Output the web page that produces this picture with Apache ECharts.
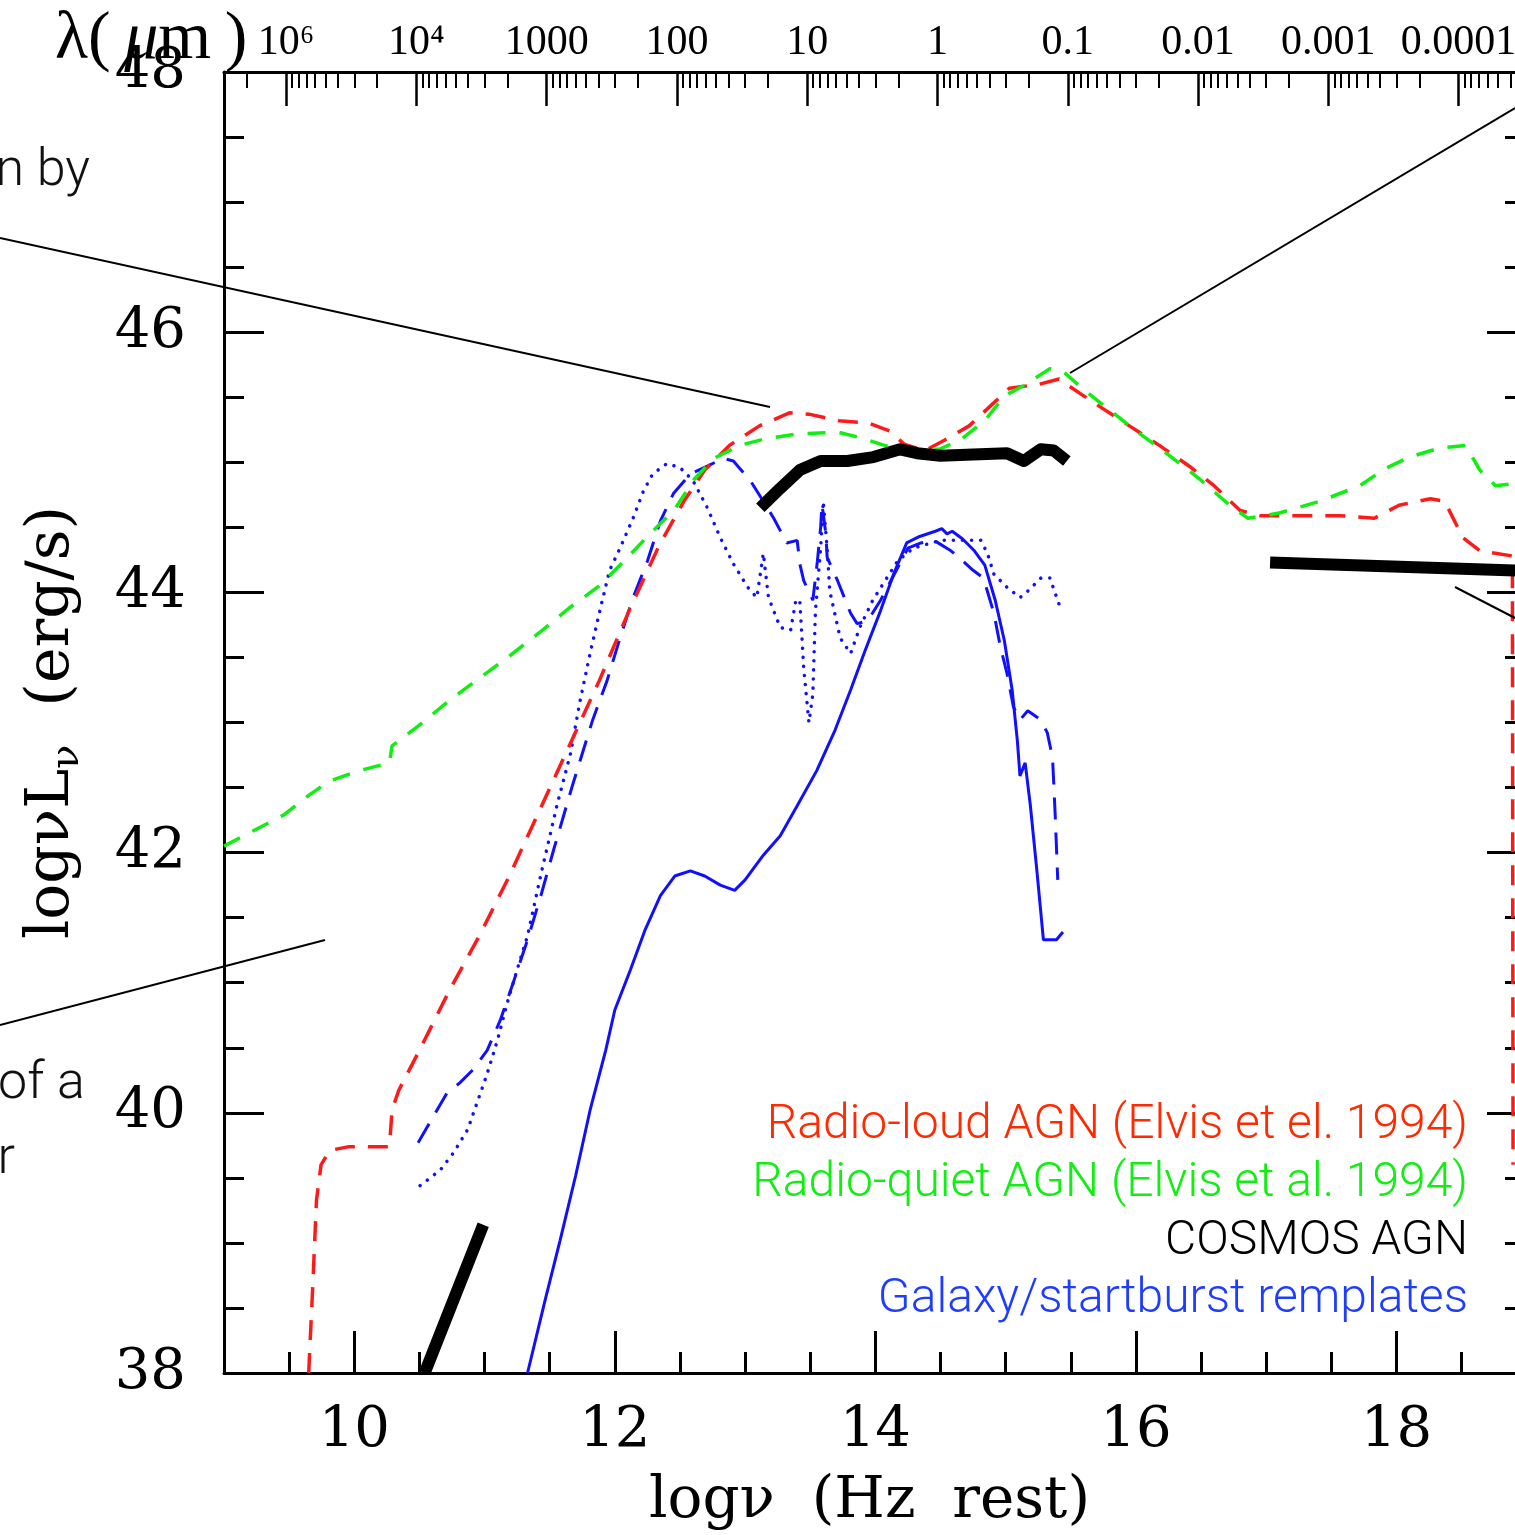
<!DOCTYPE html>
<html>
<head>
<meta charset="utf-8">
<script src="https://cdn.jsdelivr.net/npm/echarts@6/dist/echarts.min.js"></script>
<style>
html,body{margin:0;padding:0;background:#fff;overflow:hidden;}
#chart{width:1515px;height:1535px;}
</style>
</head>
<body>
<div id="chart"></div>
<script>
// ---------------- data (log nu [Hz], log nuL_nu [erg/s]) ----------------
const radioLoud = [
[9.65,38.0],[9.68,38.64],[9.71,39.33],[9.745,39.60],[9.81,39.71],[9.96,39.74],[10.27,39.74],
[10.29,40.02],[10.34,40.17],[10.50,40.48],[10.73,40.94],[10.96,41.36],[11.19,41.82],[11.42,42.32],
[11.65,42.82],[11.88,43.32],[12.11,43.86],[12.34,44.36],[12.53,44.70],[12.69,44.94],[12.88,45.13],
[13.11,45.28],[13.34,45.38],[13.49,45.37],[13.72,45.32],[13.95,45.30],[14.11,45.24],[14.22,45.14],
[14.38,45.09],[14.53,45.17],[14.72,45.28],[14.88,45.43],[15.03,45.57],[15.26,45.60],[15.41,45.64],
[15.57,45.53],[15.72,45.43],[15.95,45.28],[16.18,45.13],[16.41,44.97],[16.60,44.82],[16.80,44.63],
[16.95,44.59],[17.26,44.59],[17.56,44.59],[17.83,44.57],[18.02,44.67],[18.26,44.72],[18.37,44.70],
[18.51,44.42],[18.64,44.32],[18.89,44.28],[18.895,39.6]
];
const radioQuiet = [
[9.0,42.05],[9.23,42.17],[9.46,42.29],[9.65,42.44],[9.81,42.55],[10.04,42.63],[10.27,42.69],
[10.29,42.82],[10.50,42.98],[10.73,43.17],[10.96,43.34],[11.19,43.51],[11.42,43.69],[11.65,43.88],
[11.88,44.05],[12.07,44.24],[12.26,44.44],[12.46,44.64],[12.61,44.87],[12.76,45.03],[12.96,45.13],
[13.15,45.18],[13.42,45.22],[13.72,45.23],[13.88,45.19],[14.07,45.13],[14.26,45.10],[14.49,45.10],
[14.65,45.17],[14.84,45.32],[14.99,45.51],[15.14,45.59],[15.34,45.72],[15.45,45.69],[15.61,45.55],
[15.80,45.40],[16.03,45.22],[16.26,45.05],[16.49,44.87],[16.72,44.67],[16.86,44.57],[17.10,44.61],
[17.41,44.70],[17.72,44.82],[17.91,44.95],[18.10,45.04],[18.33,45.11],[18.53,45.13],[18.64,44.94],
[18.76,44.82],[18.95,44.84]
];
const cosmosIR = [
[13.117,44.65],[13.27,44.80],[13.42,44.94],[13.58,45.01],[13.785,45.01],[13.985,45.04],[14.19,45.10],
[14.32,45.07],[14.50,45.05],[14.75,45.06],[15.01,45.07],[15.14,45.01],[15.27,45.10],[15.37,45.09],[15.47,45.01]
];
const cosmosX = [[17.03,44.23],[19.0,44.165]];
const cosmosRadio = [[10.54,38.0],[10.99,39.14]];
const galaxySolid = [
[11.33,38.0],[11.465,38.56],[11.58,39.02],[11.70,39.52],[11.81,40.02],[11.93,40.48],[12.00,40.79],
[12.12,41.10],[12.23,41.40],[12.35,41.67],[12.46,41.82],[12.58,41.86],[12.69,41.82],[12.81,41.75],
[12.92,41.71],[13.00,41.79],[13.14,41.98],[13.27,42.13],[13.40,42.36],[13.55,42.63],[13.69,42.94],
[13.81,43.25],[13.92,43.55],[14.04,43.86],[14.14,44.14],[14.24,44.38],[14.34,44.43],[14.46,44.47],
[14.51,44.49],[14.55,44.45],[14.59,44.47],[14.67,44.41],[14.76,44.32],[14.84,44.21],[14.92,43.94],
[14.99,43.63],[15.05,43.25],[15.09,42.86],[15.11,42.59],[15.15,42.69],[15.19,42.36],[15.24,41.86],
[15.29,41.33],[15.39,41.33],[15.44,41.39]
];
const galaxyDashed = [
[10.49,39.77],[10.605,39.97],[10.71,40.15],[10.81,40.23],[10.91,40.33],[11.02,40.48],[11.12,40.71],
[11.22,41.00],[11.33,41.33],[11.43,41.66],[11.53,42.02],[11.67,42.50],[11.83,43.02],[11.94,43.32],
[12.04,43.65],[12.14,43.96],[12.25,44.24],[12.35,44.55],[12.45,44.76],[12.58,44.91],[12.71,44.97],
[12.83,45.03],[12.91,45.01],[13.04,44.86],[13.14,44.70],[13.22,44.57],[13.32,44.38],[13.40,44.40],
[13.42,44.22],[13.45,44.09],[13.52,43.94],[13.555,44.24],[13.58,44.50],[13.59,44.68],[13.62,44.45],
[13.63,44.27],[13.71,44.09],[13.81,43.84],[13.86,43.76],[13.94,43.78],[14.04,43.94],[14.14,44.13],
[14.25,44.34],[14.35,44.38],[14.45,44.40],[14.58,44.32],[14.65,44.26],[14.75,44.17],[14.83,44.11],
[14.91,43.84],[14.96,43.58],[15.01,43.38],[15.06,43.12],[15.11,43.02],[15.17,43.09],[15.27,43.02],
[15.32,42.92],[15.36,42.73],[15.38,42.30],[15.40,41.79]
];
const galaxyDotted = [
[10.505,39.44],[10.66,39.56],[10.76,39.69],[10.87,39.87],[10.94,40.07],[11.02,40.30],[11.10,40.56],
[11.17,40.83],[11.25,41.10],[11.33,41.36],[11.43,41.82],[11.56,42.38],[11.66,42.76],[11.73,43.15],
[11.81,43.53],[11.89,43.88],[11.96,44.17],[12.04,44.34],[12.14,44.57],[12.22,44.78],[12.29,44.91],
[12.40,44.99],[12.50,44.96],[12.60,44.86],[12.71,44.65],[12.81,44.42],[12.91,44.22],[13.02,44.04],
[13.09,43.96],[13.14,44.30],[13.18,43.96],[13.27,43.73],[13.35,43.71],[13.39,43.94],[13.42,43.94],
[13.45,43.42],[13.49,43.00],[13.52,43.22],[13.54,43.86],[13.58,44.34],[13.60,44.70],[13.63,44.34],
[13.65,44.01],[13.73,43.65],[13.81,43.53],[13.88,43.73],[13.98,43.94],[14.17,44.24],[14.29,44.34],
[14.50,44.40],[14.81,44.40],[14.86,44.30],[14.91,44.14],[15.01,44.04],[15.11,43.96],[15.17,44.01],
[15.27,44.11],[15.34,44.11],[15.42,43.88]
];

// ---------------- axes / ticks ----------------
const xMin = 9, xMax = 18.91;          // visible range of log nu (plot cropped at right)
const nuMajorTicks = [10, 12, 14, 16, 18];
const nuMinorTicks = [9.5, 10.5, 11, 11.5, 12.5, 13, 13.5, 14.5, 15, 15.5, 16.5, 17, 17.5, 18.5];
const lambdaDecades = [5, 4, 3, 2, 1, 0, -1, -2, -3, -4];           // log10(lambda / um)
const lambdaLabels = ['10\u2076', '10\u2074', '1000', '100', '10', '1', '0.1', '0.01', '0.001', '0.0001'];
const logNuAt1um = 14.477;                                         // log10(c / 1 um)

const legendNames = [
  'Radio-loud AGN (Elvis et el. 1994)',
  'Radio-quiet AGN (Elvis et al. 1994)',
  'COSMOS AGN',
  'Galaxy/startburst remplates'
];
const legendColors = ['#ff2a00', '#11ee11', '#000000', '#1f3dff'];

// tick positions on the wavelength axis (in log nu)
const lamMajorPos = lambdaDecades.map(k => +(logNuAt1um - k).toFixed(4));
const lamMinorPos = [];
for (let k = 6; k >= -5; k--) {
  for (let m = 2; m <= 9; m++) {
    const v = logNuAt1um - k - Math.log10(m);
    if (v > xMin && v < xMax) lamMinorPos.push(+v.toFixed(4));
  }
}

const chart = echarts.init(document.getElementById('chart'), null, {renderer: 'canvas'});
const SERIF = 'DejaVu Serif';
const SANS = 'Roboto';
const tickStyle = {color: '#000', width: 3};

const cosmosAll = cosmosIR.concat([[null, null]], cosmosX, [[null, null]], cosmosRadio);

const option = {
  animation: false,
  backgroundColor: '#fff',
  grid: {left: 224, right: 0, top: 72, bottom: 162, containLabel: false, outerBoundsMode: 'none'},
  xAxis: [
    {
      type: 'value', position: 'bottom', min: xMin, max: xMax,
      axisLine: {show: true, onZero: false, lineStyle: {color: '#000', width: 3}},
      axisTick: {show: true, inside: true, length: 42, lineStyle: tickStyle, customValues: nuMajorTicks},
      axisLabel: {show: true, customValues: nuMajorTicks, margin: 30, color: '#000',
        fontFamily: SERIF, fontSize: 56},
      splitLine: {show: false},
      name: 'log\u03bd  (Hz  rest)', nameLocation: 'middle', nameGap: 100,
      nameTextStyle: {fontFamily: SERIF, fontSize: 58, color: '#000'}
    },
    {
      type: 'value', position: 'bottom', min: xMin, max: xMax,
      axisLine: {show: false},
      axisTick: {show: true, inside: true, length: 21, lineStyle: tickStyle, customValues: nuMinorTicks},
      axisLabel: {show: false}, splitLine: {show: false}
    },
    {
      type: 'value', position: 'top', min: xMin, max: xMax,
      axisLine: {show: true, onZero: false, lineStyle: {color: '#000', width: 3}},
      axisTick: {show: true, inside: true, length: 34, lineStyle: {color: '#000', width: 2.5}, customValues: lamMajorPos},
      axisLabel: {show: true, customValues: lamMajorPos, margin: 8, color: '#000',
        fontFamily: 'Liberation Serif', fontSize: 42,
        formatter: function (v) {
          const i = lamMajorPos.findIndex(p => Math.abs(p - v) < 1e-3);
          return i >= 0 ? lambdaLabels[i] : '';
        }},
      splitLine: {show: false}
    },
    {
      type: 'value', position: 'top', min: xMin, max: xMax,
      axisLine: {show: false},
      axisTick: {show: true, inside: true, length: 16, lineStyle: {color: '#000', width: 2}, customValues: lamMinorPos},
      axisLabel: {show: false}, splitLine: {show: false}
    }
  ],
  yAxis: [
    {
      type: 'value', position: 'left', min: 38, max: 48, interval: 2,
      axisLine: {show: true, onZero: false, lineStyle: {color: '#000', width: 3}},
      axisTick: {show: true, inside: true, length: 40, lineStyle: tickStyle},
      minorTick: {show: true, splitNumber: 4, length: 20, lineStyle: tickStyle},
      axisLabel: {show: true, margin: 38, color: '#000', fontFamily: SERIF, fontSize: 56},
      splitLine: {show: false}, minorSplitLine: {show: false},
      name: '{a|log\u03bdL}{s|\u03bd}{a|  (erg/s)}', nameLocation: 'middle', nameGap: 136,
      nameTextStyle: {color: '#000',
        rich: {a: {fontFamily: SERIF, fontSize: 60, color: '#000'},
               s: {fontFamily: SERIF, fontSize: 40, color: '#000', padding: [32, 0, 0, 0]}}}
    },
    {
      type: 'value', position: 'right', min: 38, max: 48, interval: 2,
      axisLine: {show: false},
      axisTick: {show: true, inside: true, length: 28, lineStyle: tickStyle},
      minorTick: {show: true, splitNumber: 4, length: 10, lineStyle: tickStyle},
      axisLabel: {show: false}, splitLine: {show: false}
    }
  ],
  legend: legendNames.map((n, i) => ({
    orient: 'vertical', right: 42, top: 1102 + i * 58, align: 'right', icon: 'none',
    itemWidth: 0, itemHeight: 10, padding: 0, selectedMode: false,
    textStyle: {fontFamily: SANS, fontWeight: 300, fontSize: 48},
    data: [{name: n, textStyle: {color: legendColors[i]}}]
  })),
  series: [
    {name: legendNames[0], type: 'line', data: radioLoud, showSymbol: false, symbol: 'none',
     lineStyle: {color: '#ff1a1a', width: 3.5, type: [20, 13]}, itemStyle: {color: '#ff1a1a'}, z: 3},
    {name: legendNames[1], type: 'line', data: radioQuiet, showSymbol: false, symbol: 'none',
     lineStyle: {color: '#11ee11', width: 3.5, type: [18, 14]}, itemStyle: {color: '#11ee11'}, z: 4},
    {name: legendNames[3], type: 'line', data: galaxySolid, showSymbol: false, symbol: 'none',
     lineStyle: {color: '#1010ff', width: 3}, itemStyle: {color: '#1010ff'}, z: 2},
    {name: legendNames[3], type: 'line', data: galaxyDashed, showSymbol: false, symbol: 'none',
     lineStyle: {color: '#1010ff', width: 3, type: [22, 13]}, itemStyle: {color: '#1010ff'}, z: 2},
    {name: legendNames[3], type: 'line', data: galaxyDotted, showSymbol: false, symbol: 'none',
     lineStyle: {color: '#1010ff', width: 3.5, type: [0.1, 9], cap: 'round'}, itemStyle: {color: '#1010ff'}, z: 2},
    {name: legendNames[2], type: 'line', data: cosmosAll, connectNulls: false, showSymbol: false, symbol: 'none',
     lineStyle: {color: '#000', width: 12, cap: 'butt', join: 'round'}, itemStyle: {color: '#000'}, z: 5}
  ],
  graphic: [
    {type: 'text', left: 55, top: 6, z: 10,
     style: {text: '{a|\u03bb(\u2009}{i|\u03bc}{a|m\u2009)}',
       rich: {a: {fontFamily: 'Liberation Serif', fontSize: 68, fill: '#000'},
              i: {fontFamily: 'Liberation Serif', fontStyle: 'italic', fontSize: 68, fill: '#000'}}}},
    {type: 'line', z: 10, shape: {x1: 0, y1: 238, x2: 770, y2: 407}, style: {stroke: '#000', lineWidth: 2}},
    {type: 'line', z: 10, shape: {x1: 1515, y1: 108, x2: 1070, y2: 373}, style: {stroke: '#000', lineWidth: 2}},
    {type: 'line', z: 10, shape: {x1: 0, y1: 1025, x2: 325, y2: 940}, style: {stroke: '#000', lineWidth: 2}},
    {type: 'line', z: 10, shape: {x1: 1455, y1: 587, x2: 1515, y2: 618}, style: {stroke: '#000', lineWidth: 2}},
    {type: 'text', z: 10, x: 90, y: 172,
     style: {text: 'n by', font: '300 52px Roboto', fill: '#111', align: 'right', verticalAlign: 'middle'}},
    {type: 'text', z: 10, x: 85, y: 1085,
     style: {text: 'of a', font: '300 52px Roboto', fill: '#111', align: 'right', verticalAlign: 'middle'}},
    {type: 'text', z: 10, x: 15, y: 1160,
     style: {text: 'r', font: '300 52px Roboto', fill: '#111', align: 'right', verticalAlign: 'middle'}}
  ]
};
chart.setOption(option);
</script>
</body>
</html>
